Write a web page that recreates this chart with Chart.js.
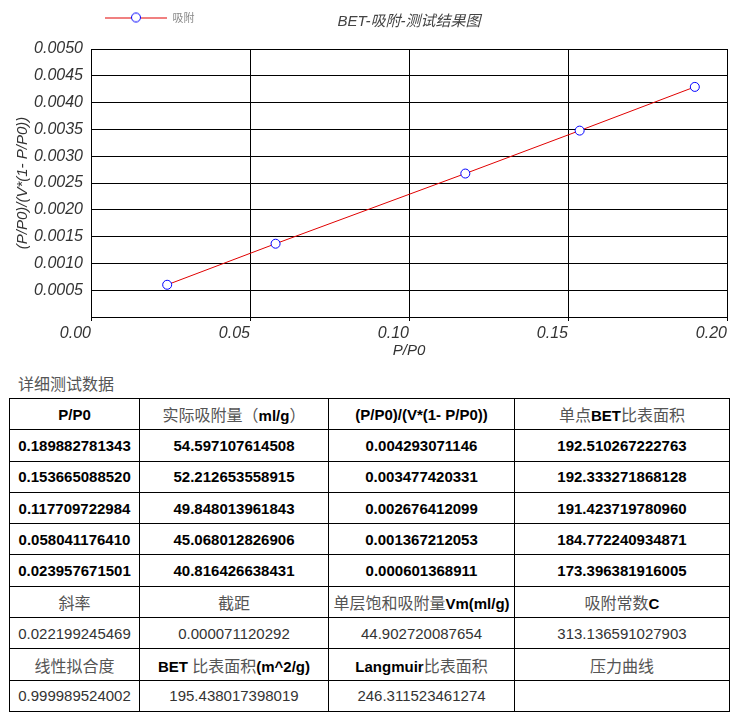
<!DOCTYPE html>
<html>
<head>
<meta charset="utf-8">
<script src="https://cdn.jsdelivr.net/npm/chart.js@4.4.1/dist/chart.umd.min.js"></script>
<style>
  body { margin: 0; background: #fff; font-family: "Liberation Sans", Arial, "Noto Sans CJK SC", sans-serif; }
  #wrap { position: relative; width: 737px; height: 364px; }
  #caption { position: absolute; left: 18px; top: 373px; font-size: 16px; line-height: 20px; color: #555; font-family: "Noto Sans CJK SC", sans-serif; }
  #data { position: absolute; left: 9px; top: 398px; width: 720px; border-collapse: collapse; table-layout: fixed; }
  #data td { border: 1px solid #000; height: 30.3px; padding: 0; text-align: center; font-size: 15px; color: #000; white-space: nowrap; overflow: hidden; }
  #data td.b { font-weight: bold; }
  #data td.n { color: #333; }
  #data .cjk { font-family: "Noto Sans CJK SC", sans-serif; font-weight: normal; color: #555; font-size: 16px; }
</style>
</head>
<body>
<div id="wrap"><canvas id="chart" width="737" height="364"></canvas></div>
<div id="caption">详细测试数据</div>
<table id="data">
  <colgroup><col style="width:130px"><col style="width:189px"><col style="width:186px"><col style="width:215px"></colgroup>
  <tbody id="rows"></tbody>
</table>
<script>
// 测试数据
const pp0 = [0.189882781343, 0.153665088520, 0.117709722984, 0.058041176410, 0.023957671501];
const adsorbed = ['54.597107614508', '52.212653558915', '49.848013961843', '45.068012826906', '40.816426638431'];
const betY = [0.004293071146, 0.003477420331, 0.002676412099, 0.001367212053, 0.000601368911];
const singleBet = ['192.510267222763', '192.333271868128', '191.423719780960', '184.772240934871', '173.396381916005'];

const headers = ['P/P0', '实际吸附量（ml/g）', '(P/P0)/(V*(1- P/P0))', '单点BET比表面积'];
const summaryLabels1 = ['斜率', '截距', '单层饱和吸附量Vm(ml/g)', '吸附常数C'];
const summaryValues1 = ['0.022199245469', '0.000071120292', '44.902720087654', '313.136591027903'];
const summaryLabels2 = ['线性拟合度', 'BET 比表面积(m^2/g)', 'Langmuir比表面积', '压力曲线'];
const summaryValues2 = ['0.999989524002', '195.438017398019', '246.311523461274', ''];

const xTicks = [0, 0.05, 0.10, 0.15, 0.20];
const seriesName = '吸附';
const chartTitle = 'BET-吸附-测试结果图';

// 表格
function cjkWrap(text) {
    return text.replace(/[\u3000-\u9fff\uff00-\uffef]+/g, m => '<span class="cjk">' + m + '</span>');
}
function addRow(cells, cls) {
    const tr = document.createElement('tr');
    cells.forEach(c => {
        const td = document.createElement('td');
        td.className = cls;
        td.innerHTML = cjkWrap(c);
        tr.appendChild(td);
    });
    document.getElementById('rows').appendChild(tr);
}
addRow(headers, 'b');
for (let i = 0; i < pp0.length; i++) {
    addRow([pp0[i].toFixed(12), adsorbed[i], betY[i].toFixed(12), singleBet[i]], 'b');
}
addRow(summaryLabels1, 'b');
addRow(summaryValues1, 'n');
addRow(summaryLabels2, 'b');
addRow(summaryValues2, 'n');

// 图例图标: 红线 + 蓝圈
const legendIcon = document.createElement('canvas');
legendIcon.width = 62;
legendIcon.height = 12;
const ic = legendIcon.getContext('2d');
ic.strokeStyle = '#e00000';
ic.lineWidth = 1;
ic.beginPath(); ic.moveTo(0, 6.5); ic.lineTo(62, 6.5); ic.stroke();
ic.fillStyle = '#fff';
ic.strokeStyle = '#0000ff';
ic.beginPath(); ic.arc(31, 6, 4.5, 0, Math.PI * 2); ic.fill(); ic.stroke();

// 图例放在左上角, 与标题同一行
const shiftLegend = {
    id: 'shiftLegend',
    afterLayout(chart) {
        chart.legend.left += 93;
        chart.legend.right += 93;
        chart.legend.top -= 16;
        chart.legend.bottom -= 16;
    }
};
const drawTitle = {
    id: 'drawTitle',
    afterDraw(chart) {
        const ctx = chart.ctx;
        const area = chart.chartArea;
        ctx.save();
        ctx.font = 'italic 15px "Liberation Sans", "Noto Sans CJK SC", sans-serif';
        ctx.fillStyle = '#444';
        ctx.textAlign = 'center';
        ctx.textBaseline = 'middle';
        ctx.fillText(chartTitle, (area.left + area.right) / 2, 22);
        ctx.restore();
    }
};

const axisFont = { family: '"Liberation Sans", Arial, sans-serif', size: 16, style: 'italic', lineHeight: 1 };
const titleFont = { family: '"Liberation Sans", Arial, sans-serif', size: 15, style: 'italic' };

new Chart(document.getElementById('chart'), {
    type: 'line',
    data: {
        datasets: [{
            label: seriesName,
            data: pp0.map((x, i) => ({ x: x, y: betY[i] })),
            borderColor: '#e00000',
            borderWidth: 1,
            pointRadius: 4.5,
            pointBorderColor: '#0000ff',
            pointBackgroundColor: '#fff',
            pointBorderWidth: 1,
            tension: 0
        }]
    },
    options: {
        responsive: false,
        animation: false,
        layout: { padding: { top: 16, right: 10, bottom: 4, left: 0 } },
        plugins: {
            legend: {
                position: 'top',
                align: 'start',
                labels: {
                    usePointStyle: true,
                    pointStyle: legendIcon,
                    pointStyleWidth: 62,
                    boxHeight: 11,
                    padding: 12,
                    color: '#888',
                    font: { family: '"Noto Sans CJK SC", sans-serif', size: 11 }
                }
            },
            tooltip: { enabled: false }
        },
        scales: {
            x: {
                type: 'linear',
                min: xTicks[0],
                max: xTicks[xTicks.length - 1],
                afterBuildTicks: scale => { scale.ticks = xTicks.map(v => ({ value: v })); },
                ticks: { align: 'end', padding: 5, color: '#333', font: axisFont, callback: v => v.toFixed(2) },
                grid: { color: '#000', lineWidth: 1, tickLength: 4 },
                border: { color: '#000' },
                title: { display: true, text: 'P/P0', color: '#333', font: titleFont, padding: { top: -5, bottom: 0 } }
            },
            y: {
                min: 0,
                max: 0.005,
                ticks: { stepSize: 0.0005, padding: 8, color: '#333', font: axisFont, callback: v => v === 0 ? '' : v.toFixed(4) },
                grid: { color: '#000', lineWidth: 1, drawTicks: false },
                border: { color: '#000' },
                afterFit: scale => { scale.width = 91; },
                title: { display: true, text: '(P/P0)/(V*(1- P/P0))', color: '#333', font: titleFont, padding: { top: 14, bottom: 0 } }
            }
        }
    },
    plugins: [shiftLegend, drawTitle]
});
</script>
</body>
</html>
